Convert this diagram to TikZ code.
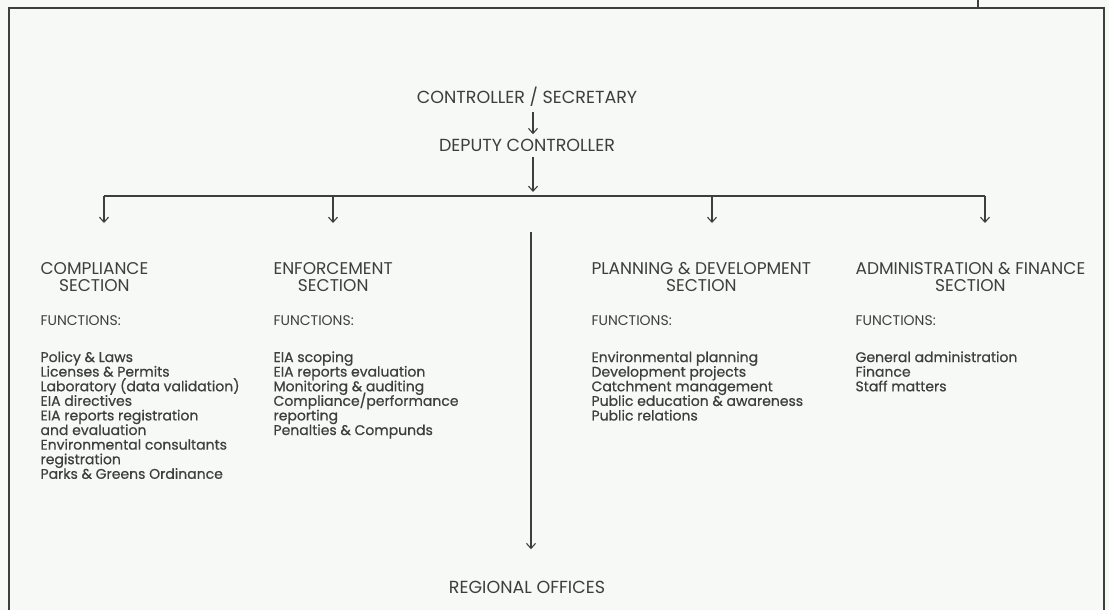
\documentclass[tikz,border=0pt]{standalone}
\usepackage{fontspec}
\setmainfont{Poppins}
\newfontfamily\listfont{Poppins}[FakeBold=0.6]
\usetikzlibrary{arrows.meta,positioning}

\definecolor{ink}{HTML}{3E3E3E}
\definecolor{paper}{HTML}{F6F9F6}
\newcommand\tightlines{\lineskiplimit=-20pt\relax}

\begin{document}
\begin{tikzpicture}[x=1pt,y=-1pt,>={Straight Barb[length=5pt,width=9pt]},
    color=ink,line width=1.1pt,
    every node/.style={inner sep=0pt,text=ink},
    head/.style={font=\fontsize{17.5}{18}\selectfont},
    title/.style={align=center,font=\fontsize{17}{16.5}\selectfont},
    funcs/.style={font=\fontsize{14}{15}\selectfont},
    items/.style={align=left,font=\listfont\fontsize{14}{14.6}\selectfont\tightlines},
    link/.style={->,shorten <=5pt,shorten >=4pt}]
  \fill[paper] (0,0) rectangle (1109,610);
  \useasboundingbox (0,0) rectangle (1109,610);

  % outer frame
  \draw[line width=2pt] (9,610) -- (9,8) -- (1104,8) -- (1104,610);
  \draw (978,0) -- (978,8);

  \node[head] (ctrl)   at (527,97)  {CONTROLLER / SECRETARY};
  \node[head] (deputy) at (527,145) {DEPUTY CONTROLLER};
  \node[head] (regional) at (527,587) {REGIONAL OFFICES};

  \coordinate (hub)   at (533,196);
  \coordinate (split) at (531,232);

  \draw[link] (ctrl.south -| hub) -- (deputy.north -| hub);
  \draw[link] (deputy.south -| hub) -- (hub);
  \draw (104,196) -- (985,196);

  % sections
  \node[title,anchor=north west] (compt) at (40,262)  {COMPLIANCE\\SECTION};
  \node[title,anchor=north west] (enft)  at (273,262) {ENFORCEMENT\\SECTION};
  \node[title,anchor=north west] (plant) at (591,262) {PLANNING \& DEVELOPMENT\\SECTION};
  \node[title,anchor=north west] (admt)  at (855,262) {ADMINISTRATION \& FINANCE\\SECTION};

  \node[funcs,below right=23pt and 0pt of compt.south west] (compf) {FUNCTIONS:};
  \node[funcs,below right=23pt and 0pt of enft.south west]  (enff)  {FUNCTIONS:};
  \node[funcs,below right=23pt and 0pt of plant.south west] (planf) {FUNCTIONS:};
  \node[funcs,below right=23pt and 0pt of admt.south west]  (admf)  {FUNCTIONS:};

  \node[items,below right=25pt and 0pt of compf.south west] (compl) {Policy \& Laws\\Licenses \& Permits\\Laboratory (data validation)\\EIA directives\\EIA reports registration\\and evaluation\\Environmental consultants\\registration\\Parks \& Greens Ordinance};
  \node[items,below right=25pt and 0pt of enff.south west] (enfl) {EIA scoping\\EIA reports evaluation\\Monitoring \& auditing\\Compliance/performance\\reporting\\Penalties \& Compunds};
  \node[items,below right=25pt and 0pt of planf.south west] (planl) {Environmental planning\\Development projects\\Catchment management\\Public education \& awareness\\Public relations};
  \node[items,below right=25pt and 0pt of admf.south west] (adml) {General administration\\Finance\\Staff matters};

  % branches off the bar
  \foreach \x/\n in {104/c,333/e,712/p,985/a} {
    \coordinate (top\n) at (\x,196);
    \coordinate (tip\n) at (\x,223);
    \draw[->] (top\n) -- (tip\n);
  }
  \draw[->,shorten >=31pt] (split) -- (split |- regional.north);
\end{tikzpicture}
\end{document}
